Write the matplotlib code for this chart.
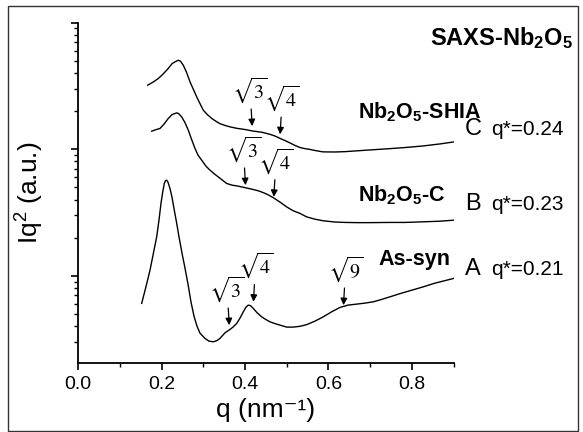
import matplotlib
matplotlib.use('Agg')
import matplotlib.pyplot as plt
from matplotlib.patches import Rectangle
from matplotlib.ticker import MultipleLocator, LogLocator, NullFormatter, FormatStrFormatter

plt.rcParams['font.family'] = ['Liberation Sans', 'DejaVu Sans']
plt.rcParams['mathtext.fontset'] = 'custom'
plt.rcParams['mathtext.rm'] = 'Liberation Sans'
plt.rcParams['mathtext.it'] = 'Liberation Sans:italic'
plt.rcParams['mathtext.bf'] = 'Liberation Sans:bold'

# SAXS curves, Iq^2 (a.u.) vs q (nm^-1)
q_asyn = [0.152, 0.162, 0.172, 0.180, 0.188, 0.1935, 0.1983, 0.2024, 0.2062, 0.2091,
          0.2120, 0.2151, 0.2199, 0.2247, 0.2302, 0.2355, 0.2415, 0.2487, 0.2559, 0.2631,
          0.2703, 0.2775, 0.2846, 0.2918, 0.3038, 0.3134, 0.3237, 0.3326, 0.3398, 0.3518,
          0.3638, 0.3710, 0.3799, 0.3878, 0.3957, 0.4022, 0.4077, 0.4129, 0.4197, 0.4285,
          0.4398, 0.4501, 0.4597, 0.4717, 0.4837, 0.4998, 0.5149, 0.5316, 0.5477, 0.5676,
          0.5875, 0.6084, 0.6276, 0.6468, 0.6676, 0.6875, 0.7074, 0.7259, 0.7475, 0.7715,
          0.8002, 0.8273, 0.8554, 0.8794, 0.900]
i_asyn = [0.606, 0.814, 1.109, 1.502, 2.032, 2.752, 3.728, 4.577, 5.361, 5.641,
          5.693, 5.490, 4.895, 4.180, 3.301, 2.653, 2.032, 1.511, 1.150, 0.860,
          0.620, 0.481, 0.401, 0.353, 0.3206, 0.3052, 0.3014, 0.3080, 0.3206, 0.3549,
          0.3776, 0.3937, 0.4210, 0.4636, 0.5198, 0.5662, 0.5872, 0.5819, 0.5529, 0.5123,
          0.4747, 0.4511, 0.4334, 0.4195, 0.4082, 0.3937, 0.3937, 0.3994, 0.4119, 0.4389,
          0.4747, 0.5217, 0.5632, 0.5872, 0.5980, 0.6090, 0.6235, 0.6488, 0.6827, 0.7236,
          0.7711, 0.8188, 0.8757, 0.9165, 0.9539]

q_c = [0.1760, 0.1863, 0.1959, 0.2055, 0.2158, 0.2247, 0.2319, 0.2360, 0.2403, 0.2480,
       0.2559, 0.2638, 0.2715, 0.2799, 0.2871, 0.2959, 0.3062, 0.3158, 0.3254, 0.3357,
       0.3458, 0.3559, 0.3686, 0.3830, 0.3998, 0.4165, 0.4309, 0.4436, 0.4549, 0.4676,
       0.4837, 0.4998, 0.5149, 0.5317, 0.5477, 0.5676, 0.5875, 0.6156, 0.6396, 0.6676,
       0.6995, 0.7475, 0.7835, 0.8273, 0.8674, 0.900]
i_c = [13.87, 14.26, 14.57, 15.76, 17.48, 18.72, 19.13, 19.34, 19.13, 17.98,
       16.19, 14.13, 11.99, 10.13, 8.97, 8.19, 7.34, 6.83, 6.41, 6.04,
       5.69, 5.36, 5.20, 5.11, 4.97, 4.83, 4.70, 4.54, 4.37, 4.14,
       3.82, 3.50, 3.27, 3.11, 2.92, 2.80, 2.72, 2.66, 2.64, 2.63,
       2.63, 2.64, 2.64, 2.67, 2.70, 2.75]

q_shia = [0.1664, 0.1791, 0.1918, 0.2031, 0.2158, 0.2247, 0.2319, 0.2398, 0.2451, 0.2518,
          0.2595, 0.2679, 0.2763, 0.2839, 0.2918, 0.2998, 0.3098, 0.3199, 0.3302, 0.3398,
          0.3518, 0.3638, 0.3806, 0.3998, 0.4189, 0.4405, 0.4597, 0.4717, 0.4854, 0.4957,
          0.5077, 0.5197, 0.5317, 0.5436, 0.5556, 0.5700, 0.5868, 0.6156, 0.6396, 0.6676,
          0.6995, 0.7475, 0.7835, 0.8266, 0.8674, 0.900]
i_shia = [32.0, 33.8, 36.1, 39.1, 43.4, 47.3, 48.9, 50.4, 49.5, 46.0,
          40.5, 34.0, 29.5, 25.9, 22.9, 20.3, 18.7, 17.5, 16.6, 15.9,
          15.4, 15.0, 14.6, 14.3, 13.9, 13.6, 13.1, 12.7, 12.1, 11.7,
          11.2, 10.7, 10.3, 10.1, 9.95, 9.73, 9.52, 9.50, 9.56, 9.70,
          9.86, 10.1, 10.3, 10.6, 11.0, 11.4]

# reflection markers: q, Iq^2 at the arrow tip, order
mark_q_asyn = [0.362, 0.420, 0.636]
mark_i_asyn = [0.408, 0.624, 0.587]
mark_n_asyn = ['3', '4', '9']
mark_q_c = [0.401, 0.469]
mark_i_c = [5.20, 4.20]
mark_n_c = ['3', '4']
mark_q_shia = [0.417, 0.484]
mark_i_shia = [15.2, 13.1]
mark_n_shia = ['3', '4']

fig = plt.figure(figsize=(5.83, 4.32), dpi=100)
ax = fig.add_axes([0.1343, 0.1597, 0.6437, 0.7882])

for q, iq in [(q_asyn, i_asyn), (q_c, i_c), (q_shia, i_shia)]:
    ax.plot(q, iq, color='black', lw=1.0)

for mq, mi, mn in [(mark_q_asyn, mark_i_asyn, mark_n_asyn),
                   (mark_q_c, mark_i_c, mark_n_c),
                   (mark_q_shia, mark_i_shia, mark_n_shia)]:
    for q, iq, n in zip(mq, mi, mn):
        dx = -1.5 if n == '3' else 1.5
        ax.annotate(r'$\sqrt{%s}$' % n, xy=(q, iq), xytext=(dx, 26),
                    textcoords='offset points', ha='center', va='center',
                    fontsize=14.5, math_fontfamily='stix',
                    arrowprops=dict(arrowstyle='-|>', color='black', lw=0.9,
                                    shrinkA=1, shrinkB=0, mutation_scale=10))

ax.set_yscale('log')
ax.set_xlim(0, 0.9)
ax.set_ylim(0.205, 100)
ax.xaxis.set_major_locator(MultipleLocator(0.2))
ax.xaxis.set_minor_locator(MultipleLocator(0.1))
ax.xaxis.set_major_formatter(FormatStrFormatter('%.1f'))
ax.yaxis.set_major_locator(LogLocator(base=10))
ax.yaxis.set_minor_locator(LogLocator(base=10, subs=range(2, 10)))
ax.yaxis.set_major_formatter(NullFormatter())
ax.yaxis.set_minor_formatter(NullFormatter())
ax.tick_params(which='major', direction='out', length=5, width=1.2, labelsize=14, pad=4)
ax.tick_params(which='minor', direction='out', length=3, width=1.0)
for s in ['top', 'right']:
    ax.spines[s].set_visible(False)
for s in ['left', 'bottom']:
    ax.spines[s].set_linewidth(1.3)

ax.set_xlabel('q (nm\u207b\u00b9)', fontsize=19, labelpad=4)
ax.set_ylabel(r'Iq$^2$ (a.u.)', fontsize=19, labelpad=14)

bold = dict(fontsize=15.5, fontweight='bold', va='baseline', clip_on=False)
ax.text(0.843, 66.2, r'SAXS-Nb$_\mathbf{2}$O$_\mathbf{5}$', **dict(bold, fontsize=17))
ax.text(0.671, 17.6, r'Nb$_\mathbf{2}$O$_\mathbf{5}$-SHIA', **bold)
ax.text(0.671, 3.84, r'Nb$_\mathbf{2}$O$_\mathbf{5}$-C', **bold)
ax.text(0.719, 1.21, 'As-syn', **bold)

for letter, qstar, y in [('C', '0.24', 12.9), ('B', '0.23', 3.30), ('A', '0.21', 1.01)]:
    ax.text(0.927, y, letter, fontsize=17, va='baseline', clip_on=False)
    ax.text(0.990, y, 'q*=' + qstar, fontsize=15, va='baseline', clip_on=False)

fig.add_artist(Rectangle((8 / 583, 1.5 / 432), 570 / 583, 425 / 432,
                         transform=fig.transFigure, fill=False, lw=1.0, ec='#333333'))

fig.savefig('out.png', dpi=100)
